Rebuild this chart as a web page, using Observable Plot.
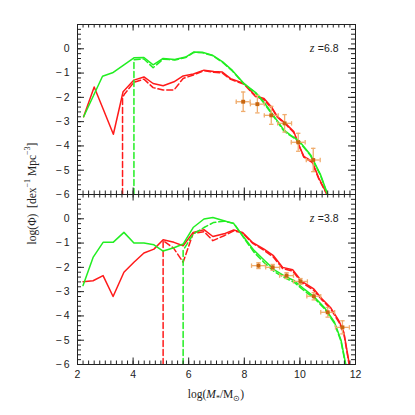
<!DOCTYPE html>
<html><head><meta charset="utf-8">
<script src="https://cdn.jsdelivr.net/npm/d3@7"></script>
<script src="https://cdn.jsdelivr.net/npm/@observablehq/plot@0.6"></script>
<style>body{margin:0;background:#fff;} #chart{width:415px;height:415px;}</style>
</head><body><div id="chart"></div>
<script>
// ---- data ----
const panels = ["6.8", "3.8"];
const xTickLabels = [2, 4, 6, 8, 10, 12];
const yTickLabels = [0, -1, -2, -3, -4, -5, -6];

// top panel (z = 6.8)
const top_red_solid = [[2.22,-2.8],[2.6,-1.57],[2.93,-2.5],[3.29,-3.52],[3.64,-1.77],[4.03,-1.29],[4.39,-1.16],[4.72,-1.43],[5.08,-1.52],[5.47,-1.36],[5.8,-1.12],[6.17,-1.04],[6.55,-0.88],[6.9,-0.94],[7.21,-0.96],[7.51,-1.23],[7.99,-1.43],[8.41,-1.94],[8.71,-2.05],[9.0,-2.43],[9.19,-2.79],[9.48,-3.07],[9.78,-3.41],[9.96,-3.95],[10.14,-4.43],[10.44,-4.64],[10.68,-5.32],[10.98,-6]];
const top_red_dashed = [[3.62,-6],[3.62,-2.0],[3.7,-1.85],[4.03,-1.38],[4.39,-1.25],[4.72,-1.6],[5.08,-1.7],[5.47,-1.7],[5.8,-1.22],[6.17,-1.08],[6.55,-0.9],[6.9,-0.97],[7.21,-1.0],[7.51,-1.26],[7.99,-1.46],[8.41,-1.97],[8.71,-2.1],[9.0,-2.47],[9.19,-2.82],[9.48,-3.1],[9.78,-3.45],[9.96,-3.97],[10.14,-4.46],[10.44,-4.68],[10.68,-5.36],[10.97,-6]];
const top_green_solid = [[2.22,-2.8],[2.9,-1.13],[3.26,-0.99],[4.03,-0.37],[4.39,-0.36],[4.72,-0.66],[5.08,-0.4],[5.5,-0.44],[5.89,-0.34],[6.19,-0.13],[6.49,-0.14],[6.85,-0.26],[7.21,-0.53],[7.57,-0.89],[7.98,-1.42],[8.41,-1.8],[8.71,-2.2],[9.06,-2.76],[9.42,-3.34],[9.66,-3.55],[9.96,-3.78],[10.38,-4.36],[10.74,-5.18],[11.0,-6]];
const top_green_dashed = [[4.03,-6],[4.03,-0.45],[4.39,-0.42],[4.72,-0.78],[5.08,-0.43],[5.5,-0.46],[5.89,-0.36],[6.19,-0.15],[6.49,-0.16],[6.85,-0.28],[7.21,-0.55],[7.57,-0.91],[7.98,-1.44],[8.41,-1.83],[8.71,-2.24],[9.06,-2.8],[9.42,-3.38],[9.66,-3.58],[9.96,-3.81],[10.38,-4.39],[10.74,-5.21],[10.99,-6]];
const top_obs_x = [7.96, 8.47, 8.97, 9.45, 9.94, 10.48];
const top_obs_y = [-2.18, -2.28, -2.74, -3.07, -3.85, -4.58];
const top_obs_yerr = [0.40, 0.36, 0.37, 0.36, 0.37, 0.48];
const top_obs_xerr = [0.25, 0.25, 0.25, 0.25, 0.25, 0.25];

// bottom panel (z = 3.8)
const bot_red_solid = [[2.2,-2.59],[2.56,-2.55],[2.92,-2.34],[3.28,-3.2],[3.67,-2.2],[4.03,-1.79],[4.39,-1.41],[4.75,-1.25],[5.08,-0.86],[5.47,-0.97],[5.8,-1.11],[6.16,-0.56],[6.55,-0.45],[6.87,-0.73],[7.27,-0.62],[7.62,-0.46],[7.93,-0.56],[8.29,-0.97],[8.71,-1.25],[9.05,-1.52],[9.38,-2.0],[9.74,-2.1],[10.07,-2.58],[10.5,-2.89],[10.8,-3.3],[11.1,-3.65],[11.4,-4.19],[11.58,-4.67],[11.78,-6]];
const bot_red_dashed = [[5.08,-6],[5.08,-0.9],[5.45,-1.2],[5.8,-1.79],[6.16,-0.6],[6.55,-0.53],[6.87,-0.9],[7.27,-0.7],[7.62,-0.5],[7.93,-0.58],[8.29,-1.0],[8.71,-1.3],[9.05,-1.58],[9.38,-2.05],[9.74,-2.15],[10.07,-2.63],[10.5,-2.95],[10.8,-3.35],[11.1,-3.7],[11.4,-4.25],[11.58,-4.72],[11.77,-6]];
const bot_green_solid = [[2.2,-2.75],[2.56,-1.59],[2.92,-0.97],[3.28,-0.97],[3.67,-0.56],[4.03,-1.0],[4.39,-1.0],[4.75,-1.07],[5.08,-1.33],[5.47,-1.19],[5.8,-1.04],[6.16,-0.36],[6.55,-0.01],[6.87,0.05],[7.27,-0.08],[7.62,-0.2],[7.99,-0.77],[8.35,-1.3],[8.71,-1.7],[9.08,-2.1],[9.44,-2.35],[9.8,-2.55],[10.16,-2.9],[10.5,-3.2],[10.88,-3.65],[11.24,-4.25],[11.48,-5.0],[11.65,-6]];
const bot_green_dashed = [[5.8,-6],[5.8,-1.3],[6.16,-0.63],[6.55,-0.36],[6.9,-0.15],[7.27,-0.1],[7.62,-0.18],[7.99,-0.8],[8.35,-1.38],[8.71,-1.8],[9.08,-2.18],[9.44,-2.42],[9.8,-2.62],[10.16,-2.97],[10.5,-3.25],[10.88,-3.7],[11.24,-4.3],[11.48,-5.05],[11.64,-6]];
const bot_obs_x = [8.51, 9.02, 9.52, 10.02, 10.5, 11.0, 11.53];
const bot_obs_y = [-1.93, -2.0, -2.34, -2.58, -3.19, -3.85, -4.47];
const bot_obs_yerr = [0.12, 0.12, 0.12, 0.12, 0.15, 0.2, 0.27];
const bot_obs_xerr = [0.25, 0.25, 0.25, 0.25, 0.25, 0.25, 0.25];

// ---- build tables ----
const toRows = (arr, panel) => arr.map(([x, y]) => ({panel, x, y}));
const redSolid = [...toRows(top_red_solid, "6.8"), ...toRows(bot_red_solid, "3.8")];
const redDashed = [...toRows(top_red_dashed, "6.8"), ...toRows(bot_red_dashed, "3.8")];
const greenSolid = [...toRows(top_green_solid, "6.8"), ...toRows(bot_green_solid, "3.8")];
const greenDashed = [...toRows(top_green_dashed, "6.8"), ...toRows(bot_green_dashed, "3.8")];
const obsRows = (xs, ys, ye, xe, panel) => xs.map((x, i) => ({panel, x, y: ys[i], ye: ye[i], xe: xe[i]}));
const obs = [...obsRows(top_obs_x, top_obs_y, top_obs_yerr, top_obs_xerr, "6.8"),
             ...obsRows(bot_obs_x, bot_obs_y, bot_obs_yerr, bot_obs_xerr, "3.8")];
const zLabels = panels.map(p => ({panel: p, text: "=" + p}));

// ---- layout ----
const W = 415, H = 415, ML = 77, MR = 60, MT = 23, MB = 51;
const FW = W - ML - MR, FH = (H - MT - MB) / 2;
const xMinor = d3.range(2, 12.001, 0.2).map(v => +v.toFixed(1));
const yMinor = d3.range(-6, 1.001, 0.2).map(v => +v.toFixed(1));
const xMajor = d3.range(2, 12.001, 2);
const yMajor = d3.range(-6, 1.001, 1);
const MAJ = 7, MIN = 4;

const RED = "#ff1a1a", GREEN = "#22ee22";
const ERR = "#f0ad6e", PT = "#c8660f";
const capH = {draw(ctx, size) { const r = Math.sqrt(size / Math.PI); ctx.moveTo(-r, 0); ctx.lineTo(r, 0); }};
const capV = {draw(ctx, size) { const r = Math.sqrt(size / Math.PI); ctx.moveTo(0, -r); ctx.lineTo(0, r); }};
const fmt = d => (d < 0 ? "\u2212\u2009" + Math.abs(d) : String(d));

const lineOpts = (stroke, dash) => ({x: "x", y: "y", fy: "panel", stroke, strokeWidth: 1.5, strokeDasharray: dash, clip: true});

const svg = Plot.plot({
  width: W, height: H,
  marginLeft: ML, marginRight: MR, marginTop: MT, marginBottom: MB,
  style: {fontFamily: "'Liberation Sans', Arial, sans-serif", fontSize: "10.5px", background: "#fff", color: "#222"},
  x: {domain: [2, 12], axis: null},
  y: {domain: [-6, 1], axis: null},
  fy: {domain: panels, padding: 0, axis: null},
  marks: [
    Plot.line(redSolid, lineOpts(RED, null)),
    Plot.line(redDashed, lineOpts(RED, "6,3")),
    Plot.line(greenSolid, lineOpts(GREEN, null)),
    Plot.line(greenDashed, lineOpts(GREEN, "6,3")),
    // error bars
    Plot.ruleX(obs, {x: "x", y1: d => d.y - d.ye, y2: d => d.y + d.ye, fy: "panel", stroke: ERR, strokeWidth: 1.3}),
    Plot.ruleY(obs, {y: "y", x1: d => d.x - d.xe, x2: d => d.x + d.xe, fy: "panel", stroke: ERR, strokeWidth: 1.3}),
    Plot.dot(obs, {x: "x", y: d => d.y + d.ye, fy: "panel", symbol: capH, r: 2.2, stroke: ERR, fill: "none", strokeWidth: 1.3}),
    Plot.dot(obs, {x: "x", y: d => d.y - d.ye, fy: "panel", symbol: capH, r: 2.2, stroke: ERR, fill: "none", strokeWidth: 1.3}),
    Plot.dot(obs, {x: d => d.x - d.xe, y: "y", fy: "panel", symbol: capV, r: 2.2, stroke: ERR, fill: "none", strokeWidth: 1.3}),
    Plot.dot(obs, {x: d => d.x + d.xe, y: "y", fy: "panel", symbol: capV, r: 2.2, stroke: ERR, fill: "none", strokeWidth: 1.3}),
    Plot.dot(obs, {x: "x", y: "y", fy: "panel", symbol: "square", r: 2.2, fill: PT, stroke: "none"}),
    // inward ticks on all four sides
    Plot.tickX(xMinor, {x: d => d, insetTop: FH - MIN, stroke: "#222"}),
    Plot.tickX(xMinor, {x: d => d, insetBottom: FH - MIN, stroke: "#222"}),
    Plot.tickX(xMajor, {x: d => d, insetTop: FH - MAJ, stroke: "#222"}),
    Plot.tickX(xMajor, {x: d => d, insetBottom: FH - MAJ, stroke: "#222"}),
    Plot.tickY(yMinor, {y: d => d, insetRight: FW - MIN, stroke: "#222"}),
    Plot.tickY(yMinor, {y: d => d, insetLeft: FW - MIN, stroke: "#222"}),
    Plot.tickY(yMajor, {y: d => d, insetRight: FW - MAJ, stroke: "#222"}),
    Plot.tickY(yMajor, {y: d => d, insetLeft: FW - MAJ, stroke: "#222"}),
    Plot.frame({stroke: "#222", strokeWidth: 1}),
    // tick labels
    Plot.text(yTickLabels, {y: d => d, text: fmt, frameAnchor: "left", textAnchor: "end", dx: -8, fill: "#222"}),
    Plot.text(xTickLabels, {x: d => d, fy: () => "3.8", text: d => String(d), frameAnchor: "bottom", lineAnchor: "top", dy: 6, fill: "#222"}),
    // redshift labels
    Plot.text(zLabels, {fy: "panel", text: "text", frameAnchor: "top-right", textAnchor: "end", lineAnchor: "middle", dx: -17, dy: 24.5, fontSize: 10.5, fill: "#222"}),
    Plot.text(zLabels, {fy: "panel", text: () => "z", frameAnchor: "top-right", textAnchor: "end", lineAnchor: "middle", dx: -41, dy: 24, fontSize: 12, fontStyle: "italic", fontFamily: "'Liberation Serif', serif", fill: "#222"})
  ]
});

const s = d3.select(svg);
const yl = s.append("text")
  .attr("transform", `translate(33,${MT + FH}) rotate(-90)`)
  .attr("text-anchor", "middle").attr("dominant-baseline", "middle")
  .attr("fill", "#222")
  .style("font-family", "'Liberation Serif', 'Times New Roman', serif").style("font-size", "11.5px").style("white-space", "pre");
yl.append("tspan").text("log(\u03A6)  [dex");
yl.append("tspan").attr("baseline-shift", "super").style("font-size", "8px").text("\u2212" + "1");
yl.append("tspan").text(" Mpc");
yl.append("tspan").attr("baseline-shift", "super").style("font-size", "8px").text("\u2212" + "3");
yl.append("tspan").text("]");

const xl = s.append("text")
  .attr("x", ML + FW / 2).attr("y", H - 20)
  .attr("text-anchor", "middle").attr("dominant-baseline", "middle")
  .attr("fill", "#222")
  .style("font-family", "'Liberation Serif', 'Times New Roman', serif").style("font-size", "11.5px");
xl.append("tspan").text("log(");
xl.append("tspan").style("font-style", "italic").text("M");
xl.append("tspan").attr("baseline-shift", "sub").style("font-size", "8px").text("*");
xl.append("tspan").text("/M");
xl.append("tspan").attr("baseline-shift", "sub").style("font-size", "8px").text("\u2299");
xl.append("tspan").text(")");

document.getElementById("chart").appendChild(svg);
</script>
</body></html>
